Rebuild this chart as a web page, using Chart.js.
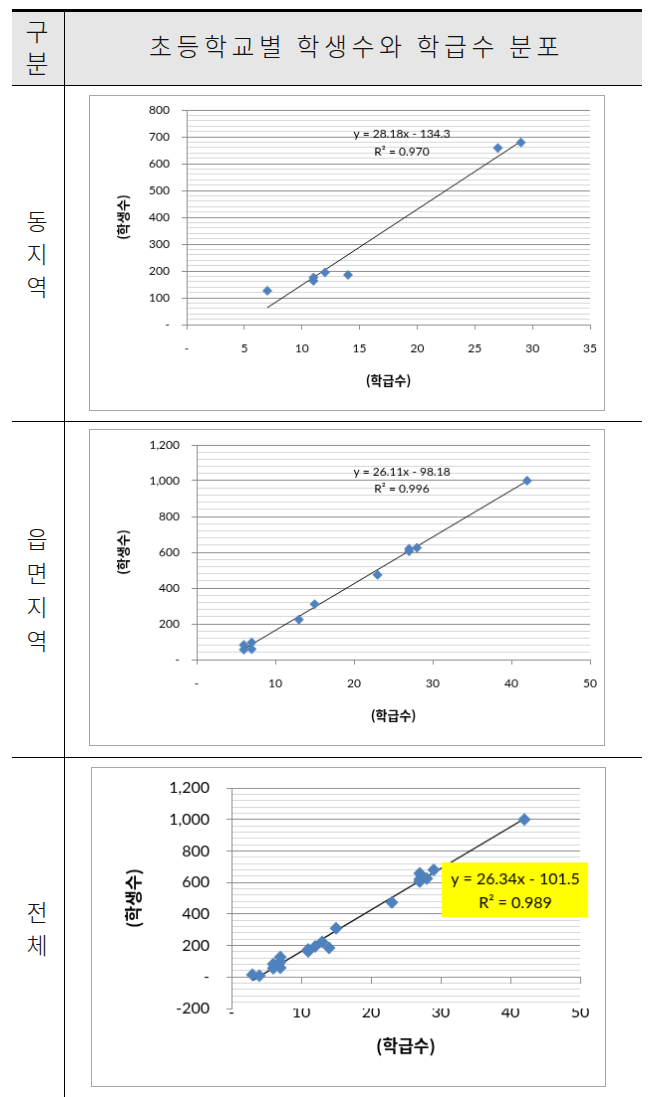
<!DOCTYPE html>
<html>
<head>
<meta charset="utf-8">
<script src="https://cdn.jsdelivr.net/npm/chart.js@4/dist/chart.umd.min.js"></script>
<style>
  body { margin:0; background:#fff; width:648px; height:1097px; position:relative; overflow:hidden;
         font-family:"Noto Sans CJK KR", sans-serif; }
  .ln { position:absolute; background:#000; }
  .hd { position:absolute; left:12px; top:12px; width:630px; height:73px; background:#e6e6e6; }
  .vt { position:absolute; width:50px; text-align:center; font-size:23px; font-weight:300; color:#111; }
  .ttl { position:absolute; left:68px; width:577px; top:27px; text-align:center; font-size:25px;
         font-weight:300; letter-spacing:4.5px; color:#111; }
  canvas { position:absolute; border:1px solid #a6a6a6; background:#fff; }
</style>
</head>
<body>
<div class="hd"></div>
<div class="ln" style="left:12px;top:9px;width:630px;height:3px"></div>
<div class="ln" style="left:12px;top:85px;width:630px;height:1px"></div>
<div class="ln" style="left:12px;top:421px;width:630px;height:1px"></div>
<div class="ln" style="left:12px;top:757px;width:630px;height:1px"></div>
<div class="ln" style="left:64px;top:9px;width:1px;height:1088px"></div>

<div class="vt" style="left:12px;top:14px;line-height:32px;font-size:25px">구<br>분</div>
<div class="ttl">초등학교별 학생수와 학급수 분포</div>
<div class="vt" style="left:12px;top:204px;line-height:33px">동<br>지<br>역</div>
<div class="vt" style="left:12px;top:521px;line-height:34px">읍<br>면<br>지<br>역</div>
<div class="vt" style="left:12px;top:895px;line-height:33px">전<br>체</div>

<canvas id="c1" width="516" height="316" style="left:89px;top:95px"></canvas>
<canvas id="c2" width="516" height="317" style="left:89px;top:429px"></canvas>
<canvas id="c3" width="515" height="320" style="left:91px;top:767px"></canvas>

<script>
// 동지역 (학급수, 학생수)
var dongX = [7, 11, 11, 12, 14, 27, 29];
var dongY = [126, 175, 163, 194, 185, 658, 679];
// 읍면지역
var eupX = [6, 6, 7, 7, 13, 15, 23, 27, 27, 28, 42];
var eupY = [82, 56, 96, 59, 223, 310, 473, 620, 605, 625, 1000];
// 전체에만 있는 학교
var etcX = [3, 4];
var etcY = [14, 8];

// 추세선 (엑셀 표시값)
var trendSlope = [28.18, 26.11, 26.34];
var trendIcpt = [-134.3, -98.18, -101.5];
var trendText = ['y = 28.18x - 134.3', 'y = 26.11x - 98.18', 'y = 26.34x - 101.5'];
var r2Text = ['R² = 0.970', 'R² = 0.996', 'R² = 0.989'];

var xTitle = '(학급수)';
var yTitle = '(학생수)';

var BLUE = '#4f81bd', MAJOR = '#8c8c8c', MINOR = '#d6d6d6';
var NUM = 'Lato, "Noto Sans", sans-serif';
var KR = '"Noto Sans CJK KR", sans-serif';

function pts(xs, ys) {
  return xs.map(function (x, i) { return { x: x, y: ys[i] }; });
}
function trend(xs, k) {
  var a = Math.min.apply(null, xs), b = Math.max.apply(null, xs);
  return [{ x: a, y: trendSlope[k] * a + trendIcpt[k] }, { x: b, y: trendSlope[k] * b + trendIcpt[k] }];
}
function fmt(v) { return v === 0 ? '-' : v.toLocaleString('en-US'); }

// 수식 라벨
function eqPlugin(k, cx, y1, y2, size, box) {
  return {
    id: 'eq' + k,
    afterDatasetsDraw: function (chart) {
      var c = chart.ctx;
      c.save();
      if (box) { c.fillStyle = '#ffff00'; c.fillRect(box[0], box[1], box[2], box[3]); }
      c.fillStyle = '#000';
      c.font = size + 'px ' + NUM;
      c.textAlign = 'center';
      c.textBaseline = 'middle';
      c.fillText(trendText[k], cx, y1);
      c.fillText(r2Text[k], cx, y2);
      c.restore();
    }
  };
}

function makeChart(id, k, xs, ys, o) {
  var isMajor = function (v) { return Math.abs(v % o.major) < 1e-6; };
  var scales = {
    x: {
      type: 'linear', min: 0, max: o.xmax,
      afterFit: function (s) { s.height = o.xh; s.paddingLeft = 0; s.paddingRight = 0; },
      ticks: { stepSize: o.xstep, callback: fmt, color: '#000', padding: o.xpad,
               font: { family: NUM, size: o.fs } },
      grid: { drawOnChartArea: false, color: MAJOR, tickLength: o.xtick ? 5 : 0, drawTicks: !!o.xtick },
      border: { display: !!o.xtick, color: MAJOR },
      title: { display: true, text: xTitle, color: '#000', padding: { bottom: o.xtp, top: 0 },
               font: { family: KR, size: o.ts, weight: 'bold' } }
    },
    y: {
      min: o.ymin, max: o.ymax,
      afterFit: function (s) { s.width = o.yw; s.paddingTop = 0; s.paddingBottom = 0; },
      ticks: { stepSize: o.major / 5, autoSkip: false, color: '#000', padding: o.ypad,
               font: { family: NUM, size: o.fs },
               callback: function (v) { return isMajor(v) ? fmt(v) : ''; } },
      grid: {
        tickLength: 5,
        color: function (c) {
          if (o.ymin < 0 && c.tick.value === o.ymin) return 'rgba(0,0,0,0)';
          return isMajor(c.tick.value) ? MAJOR : MINOR;
        },
        tickColor: function (c) { return isMajor(c.tick.value) ? MAJOR : 'rgba(0,0,0,0)'; }
      },
      border: { color: MAJOR },
      title: { display: true, text: yTitle, color: '#000', padding: { top: o.ytp, bottom: 0 },
               font: { family: KR, size: o.ts, weight: 'bold' } }
    }
  };
  if (o.zeroAxis) {
    // 0 위치의 가로축 눈금
    scales.x0 = {
      type: 'linear', axis: 'x', min: 0, max: o.xmax, position: { y: 0 },
      afterFit: function (s) { s.paddingLeft = 0; s.paddingRight = 0; },
      ticks: { stepSize: o.xstep, display: false },
      grid: { drawOnChartArea: false, color: MAJOR, tickLength: 7 },
      border: { display: false }
    };
  }
  return new Chart(document.getElementById(id), {
    type: 'scatter',
    data: {
      datasets: [
        { data: pts(xs, ys), pointStyle: 'rectRot', pointRadius: o.pr, pointHoverRadius: o.pr,
          backgroundColor: BLUE, borderColor: BLUE, borderWidth: 0 },
        { type: 'line', data: trend(xs, k), showLine: true, pointRadius: 0,
          borderColor: '#111', borderWidth: o.lw, fill: false }
      ]
    },
    options: {
      responsive: false, animation: false, devicePixelRatio: 1,
      layout: { padding: { left: 0, right: o.pr_, top: o.pt, bottom: 0 } },
      plugins: { legend: { display: false }, tooltip: { enabled: false } },
      scales: scales
    },
    plugins: [eqPlugin(k, o.eq[0], o.eq[1], o.eq[2], o.efs, o.box)]
  });
}

makeChart('c1', 0, dongX, dongY, {
  xmax: 35, xstep: 5, ymin: 0, ymax: 800, major: 100,
  fs: 12, ts: 13, pr: 5, lw: 1, xtick: true,
  yw: 97, xh: 86, pr_: 14, pt: 14, ypad: 12, xpad: 12, xtp: 22, ytp: 25,
  eq: [313, 38, 56], efs: 12
});

makeChart('c2', 1, eupX, eupY, {
  xmax: 50, xstep: 10, ymin: 0, ymax: 1200, major: 200,
  fs: 12, ts: 13, pr: 5, lw: 1, xtick: true,
  yw: 107, xh: 86, pr_: 14, pt: 15, ypad: 12, xpad: 12, xtp: 22, ytp: 25,
  eq: [313, 42, 59], efs: 12
});

makeChart('c3', 2, dongX.concat(eupX, etcX), dongY.concat(eupY, etcY), {
  xmax: 50, xstep: 10, ymin: -200, ymax: 1200, major: 200,
  fs: 16, ts: 17, pr: 6.5, lw: 1.3, xtick: false, zeroAxis: true,
  yw: 140, xh: 78, pr_: 25, pt: 20, ypad: 17, xpad: -6, xtp: 30, ytp: 31,
  eq: [425, 112, 136], efs: 16, box: [351, 95, 147, 55]
});
</script>
</body>
</html>
